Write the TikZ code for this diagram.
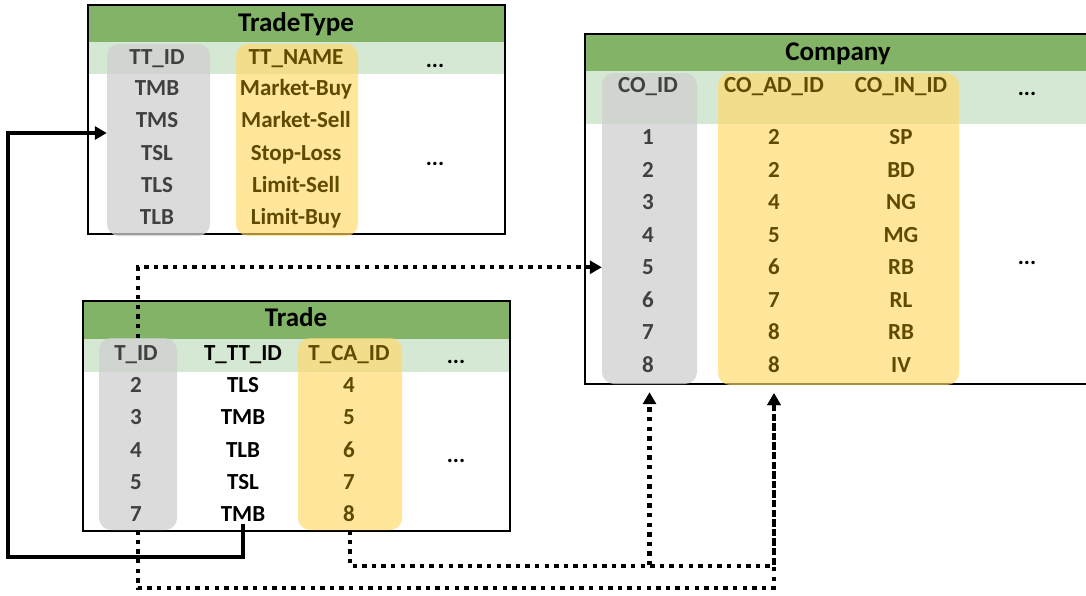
\documentclass[tikz,border=0pt]{standalone}
\usepackage{fontspec}
\setmainfont{Carlito}
\usetikzlibrary{arrows.meta}
\definecolor{hdr}{HTML}{82B366}
\definecolor{band}{HTML}{D5E8D4}
\definecolor{grayov}{HTML}{CFCFCF}
\definecolor{yelov}{HTML}{FFD966}
\definecolor{graytxt}{HTML}{404040}
\definecolor{yeltxt}{HTML}{5E4B00}
\begin{document}
\begin{tikzpicture}[x=1pt,y=-1pt,
  cell/.style={font=\fontsize{23}{27}\selectfont\bfseries, inner sep=0pt, text height=15pt, text depth=0pt, anchor=center},
  ttl/.style={font=\fontsize{27}{31}\selectfont\bfseries, inner sep=0pt, text height=17pt, text depth=0pt, anchor=center},
  gcell/.style={cell, text=graytxt},
  ycell/.style={cell, text=yeltxt},
  grayband/.style={fill=grayov, fill opacity=0.75, rounded corners=12pt, inner sep=0pt, draw=none},
  yelband/.style={fill=yelov, fill opacity=0.65, rounded corners=12pt, inner sep=0pt, draw=none},
  tblborder/.style={line width=1.5pt, draw=black},
  fk/.style={line width=4.3pt, dash pattern=on 4.3pt off 5.3pt, -{Triangle[length=12pt,width=13pt]}},
  ref/.style={line width=4.5pt, -{Triangle[length=12pt,width=13pt]}},
]
\useasboundingbox (0,0) rectangle (1086,595);

% ---------------- TradeType table ----------------
\fill[white] (88,5) rectangle (505,234);
\fill[hdr] (88,5) rectangle (505,42);
\fill[band] (88,42) rectangle (505,74);
\draw[tblborder] (88,5) rectangle (505,234);
\node[grayband, minimum width=103pt, minimum height=192pt] (ttgray) at (158.5,140) {};
\node[yelband, minimum width=122pt, minimum height=192pt] (ttyel) at (297,140) {};
\node[ttl] (tttitle) at (296,23) {TradeType};
\node[gcell] (ttid-h) at (157,57) {TT\_ID};
\node[ycell] (ttname-h) at (296,57) {TT\_NAME};
\node[cell] (ttdots-h) at (435,60) {...};
\node[cell] (ttdots) at (435,158) {...};
\foreach \i/\a/\b in {0/TMB/Market-Buy,1/TMS/Market-Sell,2/TSL/Stop-Loss,3/TLS/Limit-Sell,4/TLB/Limit-Buy}{
  \node[gcell] (ttid-\i) at (157,88+32.25*\i) {\a};
  \node[ycell] (ttname-\i) at (296,88+32.25*\i) {\b};
}

% ---------------- Trade table ----------------
\fill[white] (83,301) rectangle (510,531);
\fill[hdr] (83,301) rectangle (510,339);
\fill[band] (83,339) rectangle (510,372);
\draw[tblborder] (83,301) rectangle (510,531);
\node[grayband, minimum width=78pt, minimum height=192pt] (tgray) at (138,434) {};
\node[yelband, minimum width=104pt, minimum height=192pt] (tyel) at (350,434) {};
\node[ttl] (ttitle) at (296,318) {Trade};
\node[gcell] (tid-h) at (136,353) {T\_ID};
\node[cell] (ttt-h) at (243,353) {T\_TT\_ID};
\node[ycell] (tca-h) at (349,353) {T\_CA\_ID};
\node[cell] (tdots-h) at (456,356) {...};
\node[cell] (tdots) at (456,455) {...};
\foreach \i/\a/\b/\c in {0/2/TLS/4,1/3/TMB/5,2/4/TLB/6,3/5/TSL/7,4/7/TMB/8}{
  \node[gcell] (tid-\i) at (136,385+32.25*\i) {\a};
  \node[cell] (ttt-\i) at (243,385+32.25*\i) {\b};
  \node[ycell] (tca-\i) at (349,385+32.25*\i) {\c};
}

% ---------------- Company table ----------------
\fill[white] (585,34) rectangle (1090,384);
\fill[hdr] (585,34) rectangle (1090,71);
\fill[band] (585,71) rectangle (1090,124);
\draw[tblborder] (1090,34) -- (585,34) -- (585,384) -- (1090,384);
\node[grayband, minimum width=95pt, minimum height=311pt] (cogray) at (649.5,228.5) {};
\node[yelband, minimum width=241pt, minimum height=312pt] (coyel) at (838.5,229) {};
\node[ttl] (cotitle) at (838,52) {Company};
\node[gcell] (coid-h) at (648,85) {CO\_ID};
\node[ycell] (coad-h) at (774,85) {CO\_AD\_ID};
\node[ycell] (coin-h) at (901,85) {CO\_IN\_ID};
\node[cell] (codots-h) at (1027,88) {...};
\node[cell] (codots) at (1027,257) {...};
\foreach \i/\a/\b/\c in {0/1/2/SP,1/2/2/BD,2/3/4/NG,3/4/5/MG,4/5/6/RB,5/6/7/RL,6/7/8/RB,7/8/8/IV}{
  \node[gcell] (coid-\i) at (648,137+32.57*\i) {\a};
  \node[ycell] (coad-\i) at (774,137+32.57*\i) {\b};
  \node[ycell] (coin-\i) at (901,137+32.57*\i) {\c};
}

% ---------------- Connectors ----------------
\coordinate (solidlow) at (8,557);
\coordinate (solidhigh) at (8,133);
\draw[ref, line join=miter] ([yshift=-2pt]ttt-4.south) -- (ttt-4.south |- solidlow) -- (solidlow) -- (solidhigh) -- (ttgray.west |- solidhigh);

\draw[fk] (tgray.north) -- (tgray.north |- coid-4) -- (cogray.west |- coid-4);

\coordinate (lowA) at (0,566);
\coordinate (lowB) at (0,588);
\coordinate (cotipid) at ([yshift=-8pt]cogray.south);
\coordinate (cotipad) at ([yshift=-8pt]coyel.south -| coad-h);
\draw[fk] (tyel.south) -- (tyel.south |- lowA) -- (cotipid |- lowA) -- (cotipid);
\draw[fk] (tyel.south) -- (tyel.south |- lowA) -- (cotipad |- lowA) -- (cotipad);
\draw[fk] (tgray.south) -- (tgray.south |- lowB) -- (cotipad |- lowB) -- (cotipad);
\end{tikzpicture}
\end{document}
